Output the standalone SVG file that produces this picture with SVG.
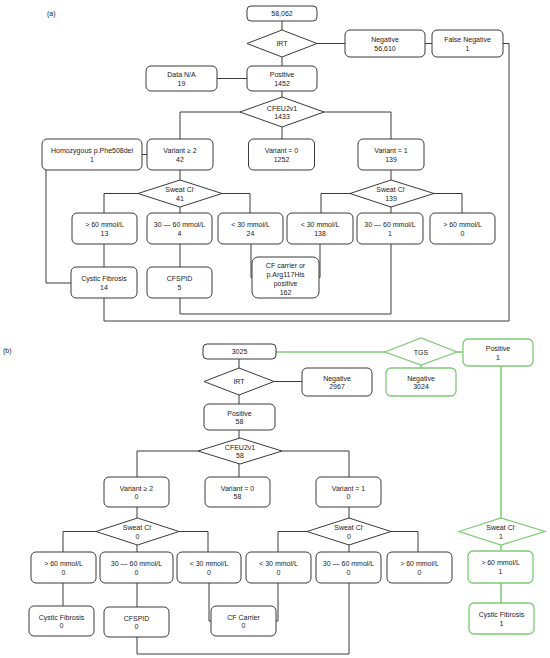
<svg xmlns="http://www.w3.org/2000/svg" width="550" height="658" viewBox="0 0 550 658">
<style>
.n{fill:#fff;stroke:#3a3a3a;stroke-width:1}
.g{fill:#fff;stroke:#7fca76;stroke-width:1.3}
.t{font-family:"Liberation Sans",Arial,sans-serif;font-size:7px;fill:#222;text-anchor:middle}
.lab{font-family:"Liberation Sans",Arial,sans-serif;font-size:7px;fill:#222}
.c{fill:none;stroke:#3a3a3a;stroke-width:1}
.cg{fill:none;stroke:#7fca76;stroke-width:1.5}
.s{font-size:4.5px}
</style>
<rect width="550" height="658" fill="#fff"/>
<text class="lab" x="47" y="16">(a)</text>
<text class="lab" x="3" y="353">(b)</text>

<g id="connectors">
<!-- (a) -->
<path class="c" d="M282 21V30M317 43.5H345M425 43.5H432M282 57V66M247 78.5H217M282 91V97M282 127V139"/>
<path class="c" d="M240 112H180V139M324 112H391V139M142 154.5H147M180 170V180"/>
<path class="c" d="M138 193.5H104V213M180 207V213M222 193.5H250V213M104 244V267M180 244V267M251 244V277.5H252"/>
<path class="c" d="M391 170V180M350 193.5H321V213M391 207V213M434 193.5H462V213M320 244V277.5H319"/>
<path class="c" d="M391 244V314H180V298M46 170V283H71M104 298V321H509V43.5H503"/>
<!-- (b) -->
<path class="c" d="M239 359V368M274 381.5H302M239 395V404M239 430V438M239 464V477"/>
<path class="c" d="M198 451H137V477M282 451H349V477M137 507V518M96 531.5H63V552M137 545V552M179 531.5H208V552"/>
<path class="c" d="M63 583V606M137 583V607M209 583V621H211"/>
<path class="c" d="M349 507V518M307 531.5H278V552M349 545V552M391 531.5H418V552M278 583V621H276"/>
<path class="c" d="M349 583V654H137V637"/>
<path class="cg" d="M276 352H385M457 352H463M421 365V368M501 366V518M501 545V551M501 583V603"/>
</g>

<!-- (a) nodes -->
<g id="a_total"><rect class="n" x="247" y="6" width="70" height="15" rx="4"/><text class="t" x="282" y="16.3">58,062</text></g>
<g id="a_irt"><polygon class="n" points="247,43.5 282,30 317,43.5 282,57"/><text class="t" x="282" y="46">IRT</text></g>
<g id="a_neg"><rect class="n" x="345" y="30" width="80" height="27" rx="5"/><text class="t" x="385" y="42">Negative</text><text class="t" x="385" y="50.5">56,610</text></g>
<g id="a_fneg"><rect class="n" x="432" y="30" width="71" height="27" rx="5"/><text class="t" x="467.5" y="42">False Negative</text><text class="t" x="467.5" y="50.5">1</text></g>
<g id="a_dna"><rect class="n" x="146" y="66" width="71" height="25" rx="5"/><text class="t" x="181.5" y="77">Data N/A</text><text class="t" x="181.5" y="85.5">19</text></g>
<g id="a_pos"><rect class="n" x="247" y="66" width="70" height="25" rx="5"/><text class="t" x="282" y="77">Positive</text><text class="t" x="282" y="85.5">1452</text></g>
<g id="a_cfeu"><polygon class="n" points="240,112 282,97 324,112 282,127"/><text class="t" x="282" y="110.5">CFEU2v1</text><text class="t" x="282" y="119">1433</text></g>
<g id="a_homo"><rect class="n" x="42" y="139" width="100" height="31" rx="5"/><text class="t" x="92" y="153">Homozygous p.Phe508del</text><text class="t" x="92" y="161.5">1</text></g>
<g id="a_v2"><rect class="n" x="147" y="139" width="66" height="31" rx="5"/><text class="t" x="180" y="153">Variant ≥ 2</text><text class="t" x="180" y="161.5">42</text></g>
<g id="a_v0"><rect class="n" x="248.5" y="139" width="66" height="31" rx="5"/><text class="t" x="281.5" y="153">Variant = 0</text><text class="t" x="281.5" y="161.5">1252</text></g>
<g id="a_v1"><rect class="n" x="358" y="139" width="66" height="31" rx="5"/><text class="t" x="391" y="153">Variant = 1</text><text class="t" x="391" y="161.5">139</text></g>
<g id="a_sw1"><polygon class="n" points="138,193.5 180,180 222,193.5 180,207"/><text class="t" x="180" y="192">Sweat Cl<tspan class="s" dy="-2.5">-</tspan></text><text class="t" x="180" y="200.5">41</text></g>
<g id="a_g60"><rect class="n" x="72" y="213" width="65" height="31" rx="5"/><text class="t" x="104.5" y="227">&gt; 60 mmol/L</text><text class="t" x="104.5" y="235.5">13</text></g>
<g id="a_3060"><rect class="n" x="147" y="213" width="65" height="31" rx="5"/><text class="t" x="179.5" y="227">30 — 60 mmol/L</text><text class="t" x="179.5" y="235.5">4</text></g>
<g id="a_l30"><rect class="n" x="218" y="213" width="65" height="31" rx="5"/><text class="t" x="250.5" y="227">&lt; 30 mmol/L</text><text class="t" x="250.5" y="235.5">24</text></g>
<g id="a_cf"><rect class="n" x="71" y="267" width="66" height="31" rx="5"/><text class="t" x="104" y="281">Cystic Fibrosis</text><text class="t" x="104" y="289.5">14</text></g>
<g id="a_cfspid"><rect class="n" x="147" y="267" width="65" height="31" rx="5"/><text class="t" x="179.5" y="281">CFSPID</text><text class="t" x="179.5" y="289.5">5</text></g>
<g id="a_carrier"><rect class="n" x="252" y="257" width="67" height="41" rx="6"/><text class="t" x="285.5" y="267.5">CF carrier or</text><text class="t" x="285.5" y="276.5">p.Arg117His</text><text class="t" x="285.5" y="285.5">positive</text><text class="t" x="285.5" y="294.5">162</text></g>
<g id="a_sw2"><polygon class="n" points="350,193.5 391,180 434,193.5 391,207"/><text class="t" x="391" y="192">Sweat Cl<tspan class="s" dy="-2.5">-</tspan></text><text class="t" x="391" y="200.5">139</text></g>
<g id="a_l30b"><rect class="n" x="287" y="213" width="66" height="31" rx="5"/><text class="t" x="320" y="227">&lt; 30 mmol/L</text><text class="t" x="320" y="235.5">138</text></g>
<g id="a_3060b"><rect class="n" x="357" y="213" width="66" height="31" rx="5"/><text class="t" x="390" y="227">30 — 60 mmol/L</text><text class="t" x="390" y="235.5">1</text></g>
<g id="a_g60b"><rect class="n" x="430" y="213" width="65" height="31" rx="5"/><text class="t" x="462.5" y="227">&gt; 60 mmol/L</text><text class="t" x="462.5" y="235.5">0</text></g>

<!-- (b) nodes -->
<g id="b_total"><rect class="n" x="203" y="344" width="73" height="15" rx="4"/><text class="t" x="239.5" y="354.3">3025</text></g>
<g id="b_irt"><polygon class="n" points="204,381.5 239,368 274,381.5 239,395"/><text class="t" x="239" y="384">IRT</text></g>
<g id="b_neg"><rect class="n" x="302" y="368" width="70" height="28" rx="5"/><text class="t" x="337" y="380.5">Negative</text><text class="t" x="337" y="389">2967</text></g>
<g id="b_pos"><rect class="n" x="204" y="404" width="71" height="26" rx="5"/><text class="t" x="239.5" y="415.5">Positive</text><text class="t" x="239.5" y="424">58</text></g>
<g id="b_cfeu"><polygon class="n" points="198,451 240,438 282,451 240,464"/><text class="t" x="240" y="449.5">CFEU2v1</text><text class="t" x="240" y="458">58</text></g>
<g id="b_v2"><rect class="n" x="104" y="477" width="65" height="30" rx="5"/><text class="t" x="136.5" y="490.5">Variant ≥ 2</text><text class="t" x="136.5" y="499">0</text></g>
<g id="b_v0"><rect class="n" x="205" y="477" width="65" height="30" rx="5"/><text class="t" x="237.5" y="490.5">Variant = 0</text><text class="t" x="237.5" y="499">58</text></g>
<g id="b_v1"><rect class="n" x="316" y="477" width="65" height="30" rx="5"/><text class="t" x="348.5" y="490.5">Variant = 1</text><text class="t" x="348.5" y="499">0</text></g>
<g id="b_sw1"><polygon class="n" points="96,531.5 137.5,518 179,531.5 137.5,545"/><text class="t" x="137.5" y="530">Sweat Cl<tspan class="s" dy="-2.5">-</tspan></text><text class="t" x="137.5" y="538.5">0</text></g>
<g id="b_g60"><rect class="n" x="31" y="552" width="65" height="31" rx="5"/><text class="t" x="63.5" y="566">&gt; 60 mmol/L</text><text class="t" x="63.5" y="574.5">0</text></g>
<g id="b_3060"><rect class="n" x="100" y="552" width="73" height="31" rx="5"/><text class="t" x="136.5" y="566">30 — 60 mmol/L</text><text class="t" x="136.5" y="574.5">0</text></g>
<g id="b_l30"><rect class="n" x="177" y="552" width="64" height="31" rx="5"/><text class="t" x="209" y="566">&lt; 30 mmol/L</text><text class="t" x="209" y="574.5">0</text></g>
<g id="b_sw2"><polygon class="n" points="307,531.5 349,518 391,531.5 349,545"/><text class="t" x="349" y="530">Sweat Cl<tspan class="s" dy="-2.5">-</tspan></text><text class="t" x="349" y="538.5">0</text></g>
<g id="b_l30b"><rect class="n" x="246" y="552" width="65" height="31" rx="5"/><text class="t" x="278.5" y="566">&lt; 30 mmol/L</text><text class="t" x="278.5" y="574.5">0</text></g>
<g id="b_3060b"><rect class="n" x="316" y="552" width="65" height="31" rx="5"/><text class="t" x="348.5" y="566">30 — 60 mmol/L</text><text class="t" x="348.5" y="574.5">0</text></g>
<g id="b_g60b"><rect class="n" x="387" y="552" width="65" height="31" rx="5"/><text class="t" x="419.5" y="566">&gt; 60 mmol/L</text><text class="t" x="419.5" y="574.5">0</text></g>
<g id="b_cf"><rect class="n" x="29" y="606" width="65" height="30" rx="5"/><text class="t" x="61.5" y="619.5">Cystic Fibrosis</text><text class="t" x="61.5" y="628">0</text></g>
<g id="b_cfspid"><rect class="n" x="104" y="607" width="65" height="30" rx="5"/><text class="t" x="136.5" y="620.5">CFSPID</text><text class="t" x="136.5" y="629">0</text></g>
<g id="b_carrier"><rect class="n" x="211" y="606" width="65" height="30" rx="5"/><text class="t" x="243.5" y="619.5">CF Carrier</text><text class="t" x="243.5" y="628">0</text></g>

<!-- (b) green nodes -->
<g id="b_tgs"><polygon class="g" points="385,352 421,338 457,352 421,365"/><text class="t" x="421" y="354.5">TGS</text></g>
<g id="b_pos1"><rect class="g" x="463" y="339" width="70" height="27" rx="5"/><text class="t" x="498" y="351">Positive</text><text class="t" x="498" y="359.5">1</text></g>
<g id="b_neg2"><rect class="g" x="386" y="368" width="70" height="28" rx="5"/><text class="t" x="421" y="380.5">Negative</text><text class="t" x="421" y="389">3024</text></g>
<g id="b_sw3"><polygon class="g" points="459,531.5 501,518 545,531.5 501,545"/><text class="t" x="501" y="530">Sweat Cl<tspan class="s" dy="-2.5">-</tspan></text><text class="t" x="501" y="538.5">1</text></g>
<g id="b_g60g"><rect class="g" x="468" y="551" width="65" height="32" rx="5"/><text class="t" x="500.5" y="565">&gt; 60 mmol/L</text><text class="t" x="500.5" y="573.5">1</text></g>
<g id="b_cfg"><rect class="g" x="469" y="603" width="65" height="31" rx="5"/><text class="t" x="501.5" y="617">Cystic Fibrosis</text><text class="t" x="501.5" y="625.5">1</text></g>
</svg>
